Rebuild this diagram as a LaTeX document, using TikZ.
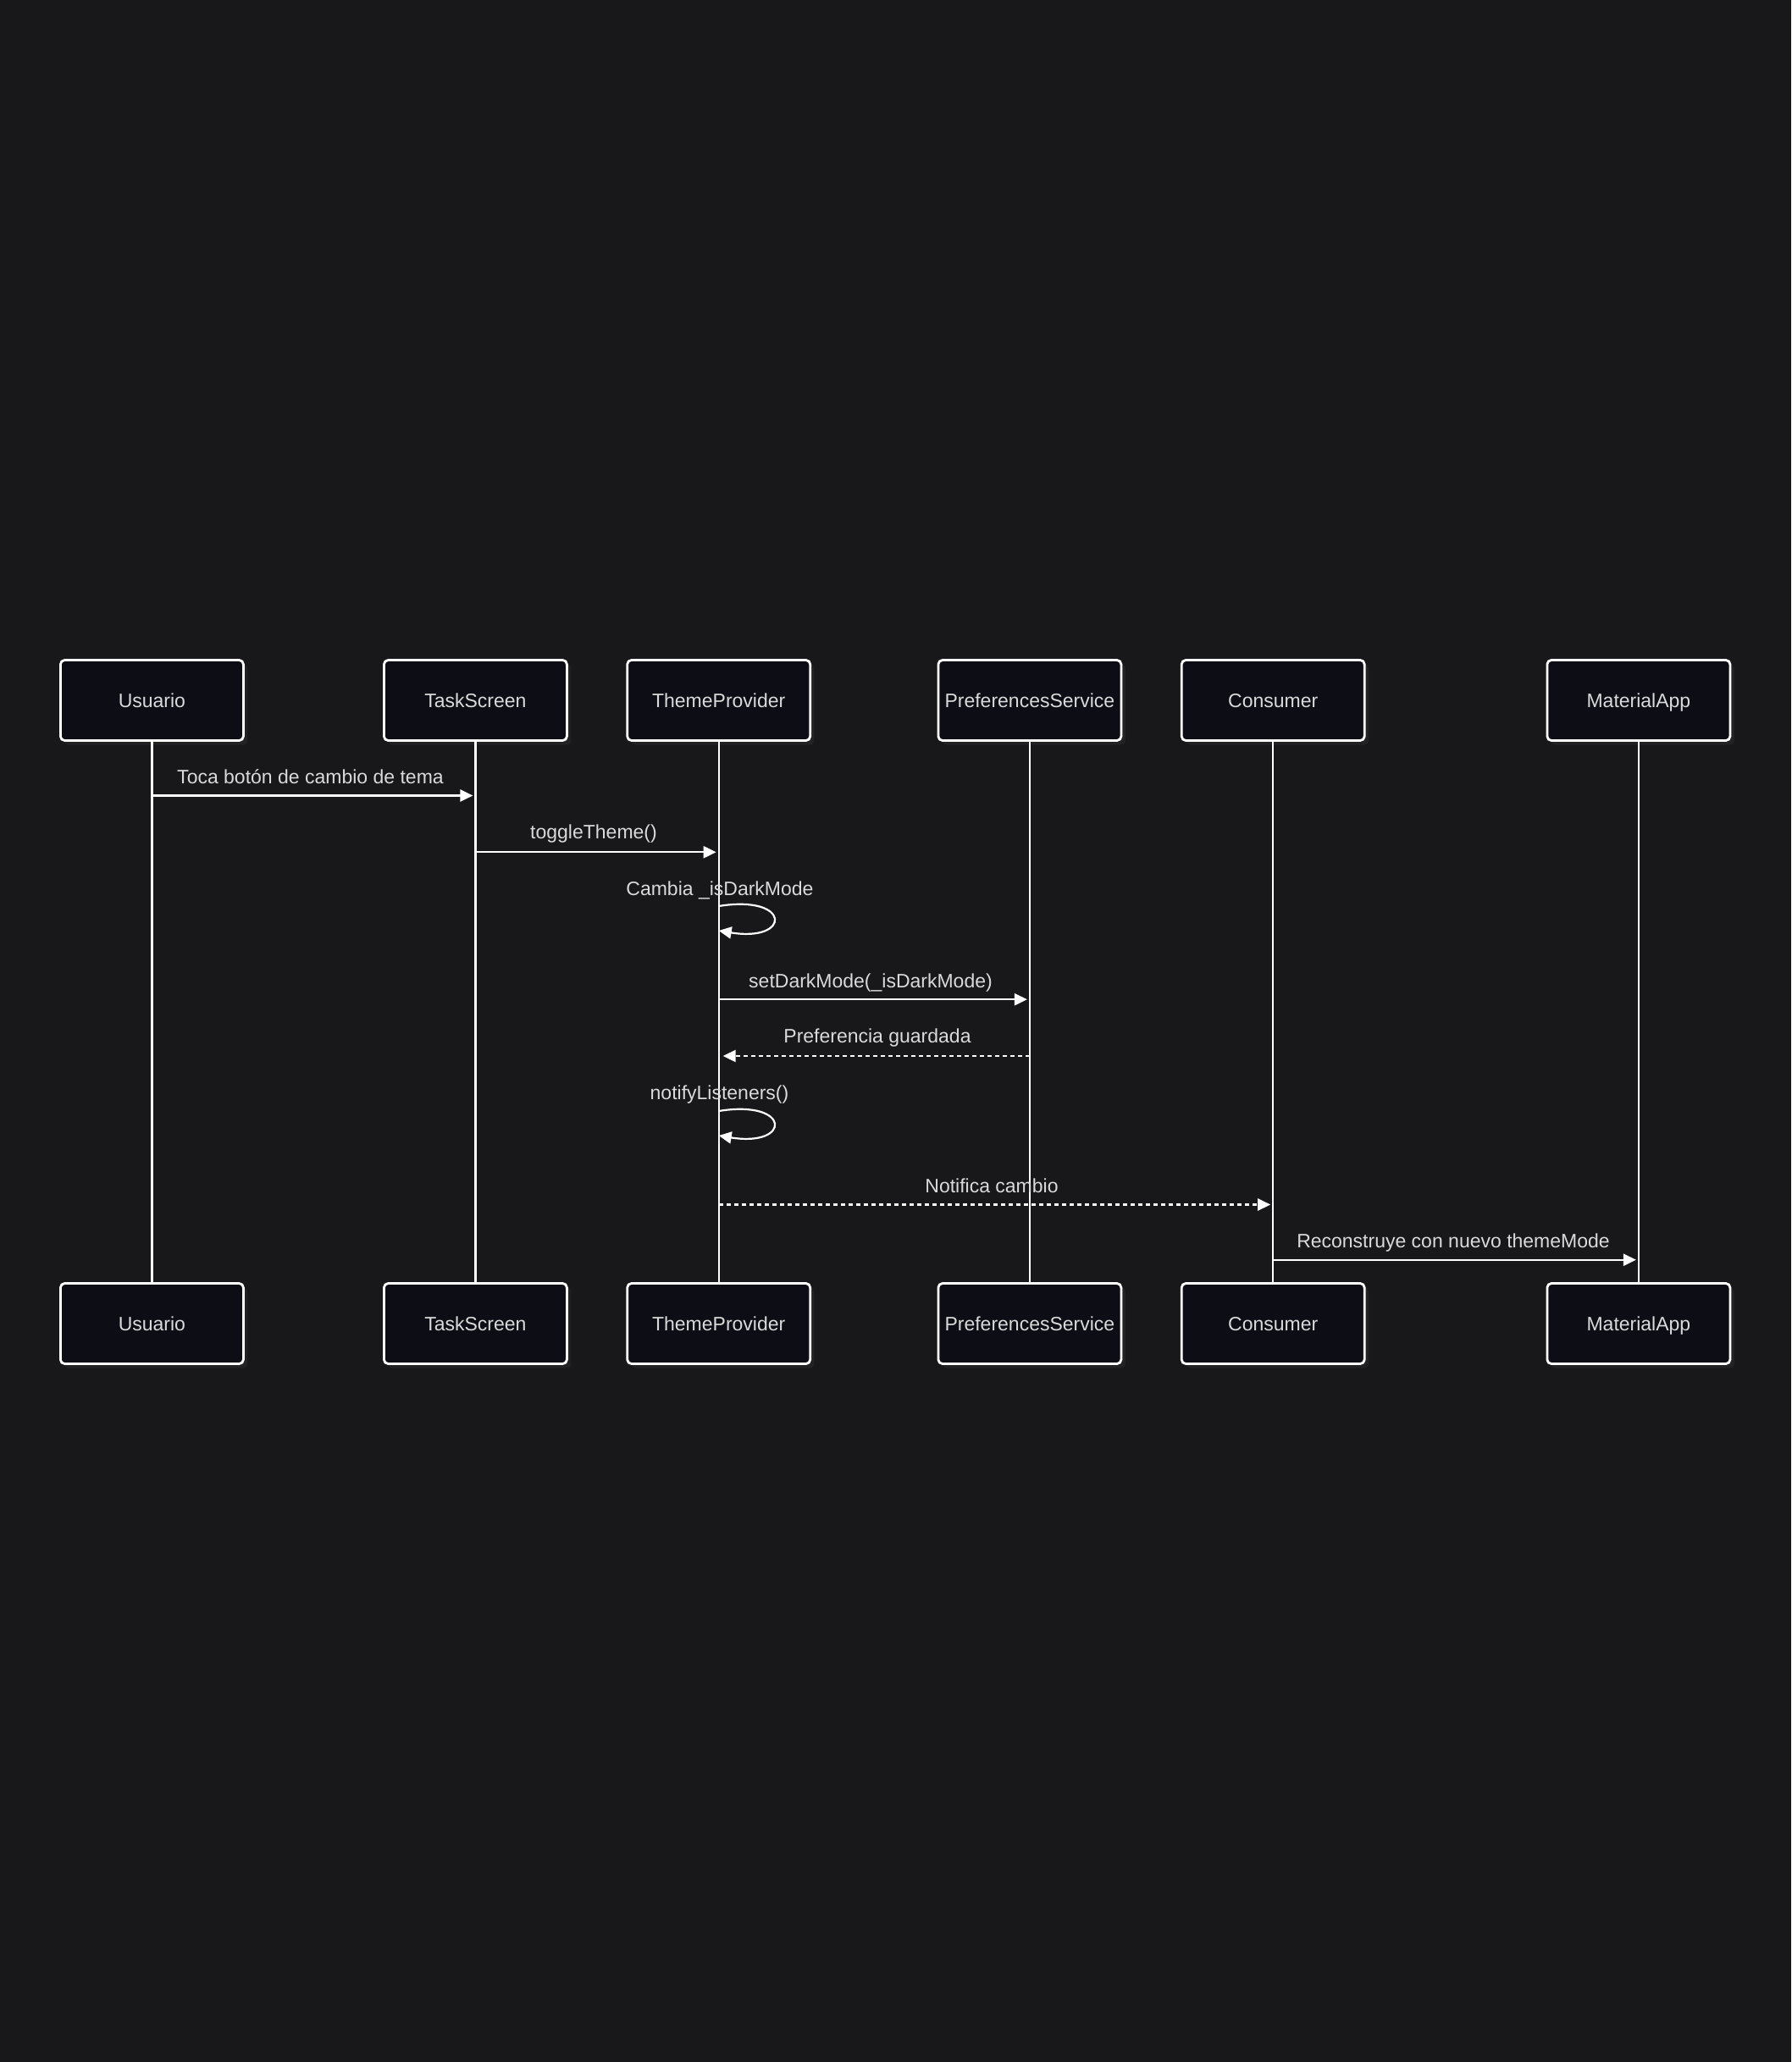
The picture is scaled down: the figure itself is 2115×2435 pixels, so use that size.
\documentclass[tikz,border=0pt]{standalone}
\usepackage{fontspec}
\setmainfont{Liberation Sans}
\usetikzlibrary{arrows.meta,shadows}
\definecolor{bg}{HTML}{18181A}
\definecolor{boxfill}{HTML}{0D0D16}
\definecolor{shadowc}{HTML}{222225}
\definecolor{txt}{HTML}{DADADA}
\begin{document}
\begin{tikzpicture}[x=0.5pt,y=-0.5pt,
  actor/.style={draw=white, line width=1.4pt, fill=boxfill, rounded corners=2.5pt,
    minimum width=108pt, minimum height=47.5pt, inner sep=0pt, text=txt,
    text height=8.8pt, text depth=0pt,
    font=\fontsize{11.5pt}{13pt}\selectfont,
    drop shadow={fill=shadowc, opacity=1, shadow xshift=2.5pt, shadow yshift=-2.5pt}},
  life/.style={draw=white, line width=1.2pt},
  msg/.style={draw=white, line width=1.1pt, -{Triangle[length=7.5pt,width=7pt]}},
  reply/.style={msg, dash pattern=on 2.5pt off 2pt},
  lbl/.style={text=txt, inner sep=0pt, text height=8.8pt, text depth=0pt,
    font=\fontsize{11.5pt}{13pt}\selectfont}
]
\fill[bg] (0,0) rectangle (2115,2435);
\useasboundingbox (0,0) rectangle (2115,2435);

% top actors
\node[actor] (u1) at (179.4,827) {Usuario};
\node[actor] (t1) at (561.4,827) {TaskScreen};
\node[actor] (p1) at (848.7,827) {ThemeProvider};
\node[actor] (s1) at (1215.9,827) {PreferencesService};
\node[actor] (c1) at (1503.2,827) {Consumer};
\node[actor] (m1) at (1934.9,827) {MaterialApp};
% bottom actors
\node[actor] (u2) at (179.4,1563) {Usuario};
\node[actor] (t2) at (561.4,1563) {TaskScreen};
\node[actor] (p2) at (848.7,1563) {ThemeProvider};
\node[actor] (s2) at (1215.9,1563) {PreferencesService};
\node[actor] (c2) at (1503.2,1563) {Consumer};
\node[actor] (m2) at (1934.9,1563) {MaterialApp};

% lifelines
\draw[life] (u1.south) -- (u2.north);
\draw[life] (t1.south) -- (t2.north);
\draw[life] (p1.south) -- (p2.north);
\draw[life] (s1.south) -- (s2.north);
\draw[life] (c1.south) -- (c2.north);
\draw[life] (m1.south) -- (m2.north);

% message rows
\coordinate (r1) at (0,939.5);
\coordinate (r2) at (0,1006.3);
\coordinate (r3a) at (0,1070);
\coordinate (r3b) at (0,1099);
\coordinate (r4) at (0,1180.2);
\coordinate (r5) at (0,1247);
\coordinate (r6a) at (0,1312);
\coordinate (r6b) at (0,1341);
\coordinate (r7) at (0,1422.5);
\coordinate (r8) at (0,1487.7);

\draw[msg, shorten >=1.5pt] (u1 |- r1) -- (t1 |- r1);
\node[lbl] (l1) at (366.5,916.2) {Toca botón de cambio de tema};

\draw[msg, shorten >=1.5pt] (t1 |- r2) -- (p1 |- r2);
\node[lbl] (l2) at (701,982) {toggleTheme()};

\draw[msg] (p1 |- r3a) .. controls +(86,-14) and +(86,14) .. (p1 |- r3b);
\node[lbl] (l3) at (850,1048.5) {Cambia \_isDarkMode};

\draw[msg, shorten >=1.5pt] (p1 |- r4) -- (s1 |- r4);
\node[lbl] (l4) at (1028,1157.5) {setDarkMode(\_isDarkMode)};

\draw[reply, shorten >=2.5pt] (s1 |- r5) -- (p1 |- r5);
\node[lbl] (l5) at (1036,1223) {Preferencia guardada};

\draw[msg] (p1 |- r6a) .. controls +(86,-14) and +(86,14) .. (p1 |- r6b);
\node[lbl] (l6) at (849.5,1289.5) {notifyListeners()};

\draw[reply, shorten >=1.5pt] (p1 |- r7) -- (c1 |- r7);
\node[lbl] (l7) at (1171,1399.5) {Notifica cambio};

\draw[msg, shorten >=1.5pt] (c1 |- r8) -- (m1 |- r8);
\node[lbl] (l8) at (1716,1465) {Reconstruye con nuevo themeMode};
\end{tikzpicture}
\end{document}
